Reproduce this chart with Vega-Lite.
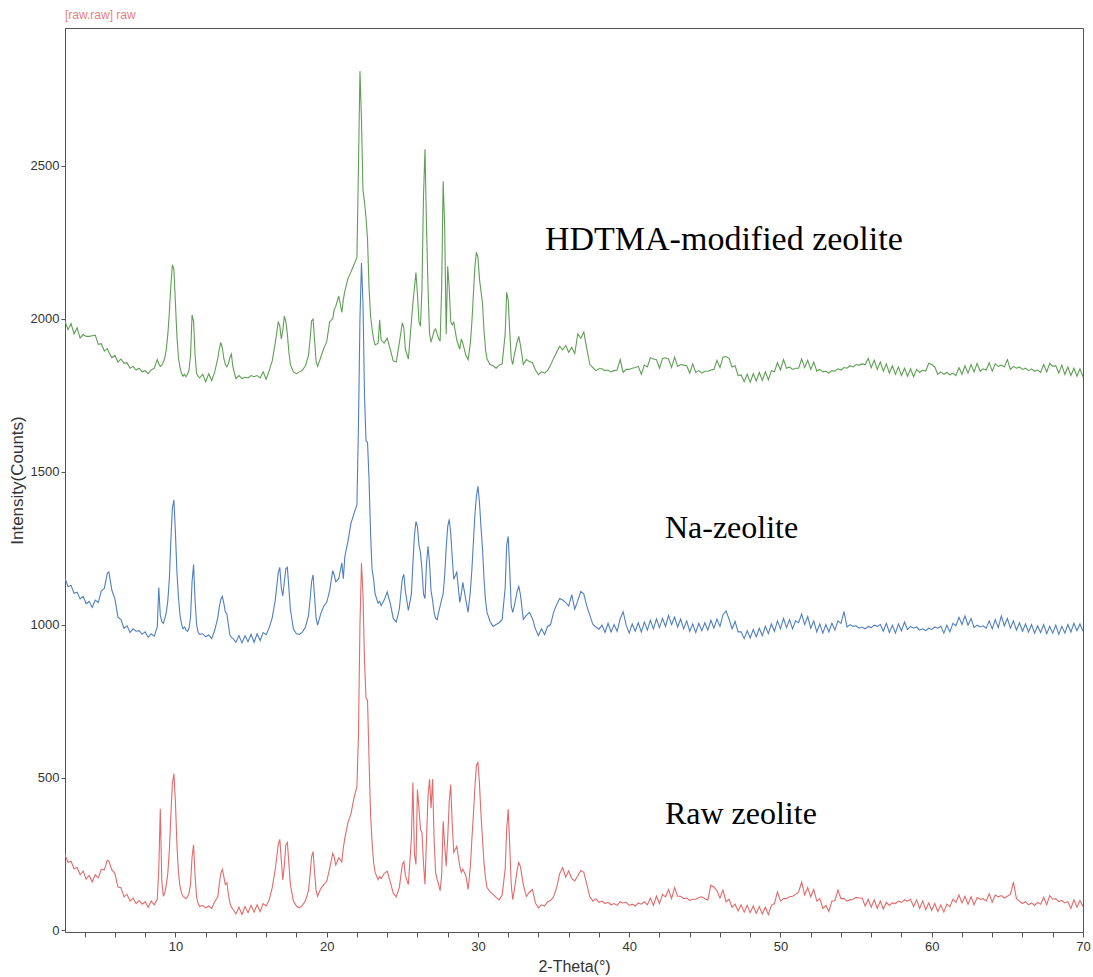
{
  "$schema": "https://vega.github.io/schema/vega-lite/v6.json",
  "width": 1018,
  "height": 904,
  "autosize": {"type": "none"},
  "padding": {"left": 65, "top": 28, "right": 10, "bottom": 45},
  "background": "white",
  "title": {"text": "[raw.raw] raw", "anchor": "start", "frame": "group", "fontSize": 12, "font": "Liberation Sans", "fontWeight": "normal", "color": "#e8807c", "offset": 6},
  "config": {
    "view": {"stroke": "#555555", "strokeWidth": 1},
    "axis": {"grid": false, "domainColor": "#555555", "tickColor": "#555555", "labelColor": "#333333", "titleColor": "#333333", "labelFont": "Liberation Sans", "titleFont": "Liberation Sans", "labelFontSize": 13, "titleFontSize": 16, "titleFontWeight": "normal"}
  },
  "layer": [
    {
      "data": {"values": [
        {"x":2.7,"r":248,"n":1152,"h":1992},{"x":2.9,"r":222,"n":1124,"h":1964},{"x":3.1,"r":226,"n":1128,"h":1984},{"x":3.3,"r":202,"n":1102,"h":1950},
        {"x":3.5,"r":206,"n":1106,"h":1970},{"x":3.7,"r":182,"n":1084,"h":1936},{"x":3.9,"r":194,"n":1092,"h":1948},{"x":4.1,"r":168,"n":1068,"h":1942},
        {"x":4.3,"r":180,"n":1076,"h":1942},{"x":4.5,"r":159,"n":1056,"h":1944},{"x":4.7,"r":182,"n":1080,"h":1946},{"x":4.9,"r":172,"n":1072,"h":1916},
        {"x":5.1,"r":200,"n":1110,"h":1918},{"x":5.3,"r":198,"n":1118,"h":1894},{"x":5.5,"r":230,"n":1168,"h":1902},{"x":5.6,"r":226,"n":1172,"h":1890},
        {"x":5.8,"r":198,"n":1112,"h":1872},{"x":6.0,"r":186,"n":1084,"h":1880},{"x":6.2,"r":142,"n":1024,"h":1858},{"x":6.4,"r":140,"n":1016,"h":1868},
        {"x":6.6,"r":110,"n":988,"h":1854},{"x":6.8,"r":118,"n":996,"h":1856},{"x":7.0,"r":96,"n":974,"h":1838},{"x":7.2,"r":106,"n":986,"h":1844},
        {"x":7.4,"r":88,"n":978,"h":1832},{"x":7.6,"r":98,"n":980,"h":1838},{"x":7.8,"r":86,"n":968,"h":1826},{"x":8.0,"r":94,"n":976,"h":1830},
        {"x":8.2,"r":76,"n":958,"h":1820},{"x":8.4,"r":96,"n":970,"h":1832},{"x":8.6,"r":84,"n":962,"h":1838},{"x":8.8,"r":102,"n":992,"h":1866},
        {"x":8.9,"r":200,"n":1121,"h":1852},{"x":9.0,"r":398,"n":1030,"h":1844},{"x":9.1,"r":160,"n":1010,"h":1848},{"x":9.2,"r":112,"n":1004,"h":1858},
        {"x":9.3,"r":124,"n":1020,"h":1872},{"x":9.4,"r":150,"n":1040,"h":1902},{"x":9.5,"r":190,"n":1080,"h":1950},{"x":9.6,"r":262,"n":1150,"h":2022},
        {"x":9.7,"r":380,"n":1278,"h":2110},{"x":9.8,"r":482,"n":1380,"h":2176},{"x":9.9,"r":512,"n":1408,"h":2160},{"x":10.0,"r":420,"n":1300,"h":2050},
        {"x":10.1,"r":280,"n":1172,"h":1942},{"x":10.2,"r":190,"n":1090,"h":1872},{"x":10.3,"r":146,"n":1032,"h":1840},{"x":10.4,"r":122,"n":1002,"h":1822},
        {"x":10.5,"r":112,"n":986,"h":1812},{"x":10.6,"r":108,"n":992,"h":1818},{"x":10.7,"r":104,"n":982,"h":1810},{"x":10.8,"r":110,"n":978,"h":1818},
        {"x":10.9,"r":122,"n":988,"h":1832},{"x":11.0,"r":152,"n":1024,"h":1880},{"x":11.1,"r":240,"n":1140,"h":2012},{"x":11.2,"r":280,"n":1196,"h":1990},
        {"x":11.3,"r":178,"n":1078,"h":1880},{"x":11.4,"r":110,"n":1000,"h":1820},{"x":11.5,"r":88,"n":975,"h":1812},{"x":11.6,"r":78,"n":968,"h":1806},
        {"x":11.8,"r":82,"n":970,"h":1818},{"x":12.0,"r":74,"n":960,"h":1794},{"x":12.2,"r":80,"n":966,"h":1820},{"x":12.4,"r":72,"n":954,"h":1798},
        {"x":12.6,"r":94,"n":982,"h":1826},{"x":12.8,"r":110,"n":1022,"h":1870},{"x":12.9,"r":152,"n":1058,"h":1900},{"x":13.0,"r":186,"n":1082,"h":1922},
        {"x":13.1,"r":200,"n":1092,"h":1904},{"x":13.2,"r":176,"n":1070,"h":1870},{"x":13.3,"r":150,"n":1040,"h":1850},{"x":13.4,"r":156,"n":1036,"h":1842},
        {"x":13.5,"r":120,"n":1000,"h":1852},{"x":13.6,"r":90,"n":966,"h":1872},{"x":13.7,"r":76,"n":958,"h":1884},{"x":13.8,"r":70,"n":955,"h":1842},
        {"x":14.0,"r":54,"n":942,"h":1804},{"x":14.2,"r":76,"n":964,"h":1814},{"x":14.4,"r":52,"n":940,"h":1804},{"x":14.6,"r":78,"n":963,"h":1808},
        {"x":14.8,"r":58,"n":944,"h":1806},{"x":15.0,"r":82,"n":968,"h":1814},{"x":15.2,"r":60,"n":942,"h":1810},{"x":15.4,"r":84,"n":970,"h":1814},
        {"x":15.6,"r":62,"n":948,"h":1806},{"x":15.8,"r":88,"n":974,"h":1826},{"x":16.0,"r":80,"n":967,"h":1802},{"x":16.2,"r":100,"n":990,"h":1830},
        {"x":16.4,"r":140,"n":1022,"h":1862},{"x":16.6,"r":200,"n":1080,"h":1920},{"x":16.8,"r":282,"n":1170,"h":1990},{"x":16.9,"r":298,"n":1187,"h":1976},
        {"x":17.0,"r":230,"n":1120,"h":1934},{"x":17.1,"r":165,"n":1094,"h":1962},{"x":17.2,"r":212,"n":1140,"h":2008},{"x":17.3,"r":280,"n":1182,"h":1990},
        {"x":17.4,"r":288,"n":1187,"h":1950},{"x":17.5,"r":220,"n":1120,"h":1890},{"x":17.6,"r":150,"n":1050,"h":1850},{"x":17.8,"r":96,"n":985,"h":1826},
        {"x":18.0,"r":80,"n":970,"h":1820},{"x":18.2,"r":74,"n":968,"h":1826},{"x":18.4,"r":82,"n":976,"h":1832},{"x":18.6,"r":98,"n":992,"h":1846},
        {"x":18.8,"r":130,"n":1030,"h":1880},{"x":18.9,"r":182,"n":1082,"h":1932},{"x":19.0,"r":240,"n":1140,"h":1992},{"x":19.1,"r":258,"n":1162,"h":1998},
        {"x":19.2,"r":190,"n":1090,"h":1930},{"x":19.3,"r":130,"n":1020,"h":1860},{"x":19.4,"r":112,"n":998,"h":1844},{"x":19.6,"r":136,"n":1034,"h":1872},
        {"x":19.8,"r":150,"n":1060,"h":1902},{"x":20.0,"r":160,"n":1072,"h":1924},{"x":20.2,"r":204,"n":1112,"h":1990},{"x":20.4,"r":252,"n":1176,"h":2000},
        {"x":20.5,"r":240,"n":1162,"h":2030},{"x":20.6,"r":214,"n":1140,"h":2040},{"x":20.8,"r":238,"n":1150,"h":2074},{"x":21.0,"r":224,"n":1202,"h":2020},
        {"x":21.1,"r":270,"n":1150,"h":2062},{"x":21.2,"r":302,"n":1222,"h":2090},{"x":21.4,"r":352,"n":1270,"h":2130},{"x":21.6,"r":380,"n":1330,"h":2152},
        {"x":21.8,"r":432,"n":1362,"h":2176},{"x":22.0,"r":470,"n":1392,"h":2200},{"x":22.1,"r":640,"n":1650,"h":2500},{"x":22.2,"r":1000,"n":2000,"h":2809},
        {"x":22.3,"r":1200,"n":2182,"h":2650},{"x":22.4,"r":1100,"n":2050,"h":2420},{"x":22.5,"r":880,"n":1750,"h":2380},{"x":22.6,"r":760,"n":1600,"h":2330},
        {"x":22.7,"r":752,"n":1596,"h":2260},{"x":22.8,"r":560,"n":1475,"h":2100},{"x":22.9,"r":380,"n":1300,"h":2010},{"x":23.0,"r":290,"n":1180,"h":1966},
        {"x":23.1,"r":222,"n":1150,"h":1932},{"x":23.2,"r":190,"n":1100,"h":1914},{"x":23.4,"r":166,"n":1070,"h":1920},{"x":23.5,"r":176,"n":1076,"h":1996},
        {"x":23.6,"r":170,"n":1062,"h":1930},{"x":23.8,"r":186,"n":1080,"h":1920},{"x":24.0,"r":194,"n":1106,"h":1936},{"x":24.2,"r":160,"n":1070,"h":1900},
        {"x":24.4,"r":122,"n":1020,"h":1862},{"x":24.6,"r":110,"n":1008,"h":1858},{"x":24.8,"r":140,"n":1050,"h":1920},{"x":25.0,"r":216,"n":1150,"h":1986},
        {"x":25.1,"r":225,"n":1164,"h":1970},{"x":25.2,"r":180,"n":1110,"h":1900},{"x":25.4,"r":150,"n":1046,"h":1868},{"x":25.6,"r":300,"n":1100,"h":1990},
        {"x":25.7,"r":484,"n":1200,"h":2050},{"x":25.8,"r":250,"n":1290,"h":2100},{"x":25.9,"r":216,"n":1337,"h":2151},{"x":26.0,"r":461,"n":1320,"h":2080},
        {"x":26.1,"r":400,"n":1260,"h":1990},{"x":26.2,"r":330,"n":1236,"h":1975},{"x":26.3,"r":320,"n":1180,"h":2100},{"x":26.4,"r":220,"n":1100,"h":2400},
        {"x":26.5,"r":150,"n":1085,"h":2554},{"x":26.6,"r":300,"n":1200,"h":2300},{"x":26.7,"r":440,"n":1256,"h":2100},{"x":26.8,"r":494,"n":1200,"h":1950},
        {"x":26.9,"r":400,"n":1110,"h":1925},{"x":27.0,"r":495,"n":1080,"h":1940},{"x":27.1,"r":300,"n":1040,"h":1960},{"x":27.2,"r":190,"n":1020,"h":1966},
        {"x":27.3,"r":166,"n":1016,"h":1950},{"x":27.4,"r":150,"n":1040,"h":1936},{"x":27.5,"r":130,"n":1060,"h":1926},{"x":27.6,"r":180,"n":1082,"h":2100},
        {"x":27.7,"r":357,"n":1100,"h":2449},{"x":27.8,"r":280,"n":1160,"h":2300},{"x":27.9,"r":210,"n":1250,"h":1950},{"x":28.0,"r":300,"n":1320,"h":2171},
        {"x":28.1,"r":420,"n":1344,"h":2100},{"x":28.2,"r":477,"n":1300,"h":1990},{"x":28.3,"r":350,"n":1220,"h":1980},{"x":28.4,"r":255,"n":1148,"h":1988},
        {"x":28.6,"r":275,"n":1171,"h":1930},{"x":28.8,"r":210,"n":1072,"h":1900},{"x":28.9,"r":190,"n":1100,"h":1934},{"x":29.0,"r":200,"n":1138,"h":1920},
        {"x":29.2,"r":180,"n":1080,"h":1880},{"x":29.35,"r":134,"n":1040,"h":1866},{"x":29.5,"r":210,"n":1110,"h":1920},{"x":29.6,"r":300,"n":1180,"h":1990},
        {"x":29.7,"r":380,"n":1270,"h":2080},{"x":29.8,"r":470,"n":1360,"h":2170},{"x":29.9,"r":540,"n":1420,"h":2217},{"x":30.0,"r":549,"n":1452,"h":2200},
        {"x":30.1,"r":480,"n":1400,"h":2130},{"x":30.2,"r":380,"n":1320,"h":2090},{"x":30.3,"r":300,"n":1250,"h":2050},{"x":30.4,"r":220,"n":1150,"h":1960},
        {"x":30.5,"r":170,"n":1080,"h":1900},{"x":30.6,"r":140,"n":1040,"h":1868},{"x":30.8,"r":126,"n":1010,"h":1850},{"x":31.0,"r":118,"n":994,"h":1846},
        {"x":31.2,"r":108,"n":1000,"h":1838},{"x":31.4,"r":100,"n":1006,"h":1848},{"x":31.6,"r":116,"n":1016,"h":1852},{"x":31.8,"r":200,"n":1120,"h":1950},
        {"x":31.9,"r":330,"n":1260,"h":2086},{"x":32.0,"r":396,"n":1288,"h":2060},{"x":32.1,"r":280,"n":1180,"h":1960},{"x":32.2,"r":150,"n":1060,"h":1870},
        {"x":32.3,"r":101,"n":1040,"h":1850},{"x":32.4,"r":130,"n":1060,"h":1880},{"x":32.6,"r":200,"n":1110,"h":1926},{"x":32.7,"r":222,"n":1125,"h":1942},
        {"x":32.8,"r":210,"n":1100,"h":1916},{"x":33.0,"r":150,"n":1017,"h":1850},{"x":33.2,"r":111,"n":1030,"h":1866},{"x":33.4,"r":125,"n":1040,"h":1860},
        {"x":33.6,"r":134,"n":1020,"h":1856},{"x":33.8,"r":90,"n":985,"h":1832},{"x":34.0,"r":74,"n":964,"h":1817},{"x":34.2,"r":84,"n":986,"h":1826},
        {"x":34.4,"r":80,"n":967,"h":1822},{"x":34.6,"r":94,"n":993,"h":1830},{"x":34.8,"r":98,"n":1000,"h":1848},{"x":35.0,"r":110,"n":1040,"h":1870},
        {"x":35.2,"r":140,"n":1065,"h":1890},{"x":35.4,"r":185,"n":1085,"h":1910},{"x":35.6,"r":205,"n":1080,"h":1898},{"x":35.8,"r":175,"n":1072,"h":1912},
        {"x":36.0,"r":195,"n":1060,"h":1890},{"x":36.2,"r":170,"n":1098,"h":1906},{"x":36.4,"r":162,"n":1050,"h":1886},{"x":36.6,"r":178,"n":1078,"h":1950},
        {"x":36.8,"r":196,"n":1108,"h":1936},{"x":37.0,"r":190,"n":1100,"h":1956},{"x":37.2,"r":150,"n":1060,"h":1900},{"x":37.4,"r":110,"n":1030,"h":1850},
        {"x":37.6,"r":96,"n":1000,"h":1840},{"x":37.8,"r":104,"n":992,"h":1830},{"x":38.0,"r":92,"n":985,"h":1836},
        {"x":38.2,"r":96,"n":998,"h":1836},{"x":38.4,"r":88,"n":974,"h":1830},{"x":38.6,"r":92,"n":1004,"h":1832},{"x":38.8,"r":84,"n":976,"h":1826},
        {"x":39.0,"r":88,"n":1000,"h":1830},{"x":39.2,"r":82,"n":978,"h":1832},{"x":39.4,"r":94,"n":1018,"h":1866},{"x":39.6,"r":90,"n":1042,"h":1824},
        {"x":39.8,"r":92,"n":998,"h":1834},{"x":40.0,"r":82,"n":972,"h":1834},{"x":40.2,"r":86,"n":1002,"h":1838},{"x":40.4,"r":80,"n":978,"h":1840},
        {"x":40.6,"r":90,"n":1006,"h":1844},{"x":40.8,"r":86,"n":976,"h":1818},{"x":41.0,"r":94,"n":1008,"h":1848},{"x":41.2,"r":84,"n":982,"h":1842},
        {"x":41.4,"r":106,"n":1014,"h":1872},{"x":41.6,"r":82,"n":986,"h":1868},{"x":41.8,"r":112,"n":1018,"h":1866},{"x":42.0,"r":88,"n":990,"h":1838},
        {"x":42.2,"r":118,"n":1020,"h":1870},{"x":42.4,"r":110,"n":994,"h":1872},{"x":42.6,"r":134,"n":1030,"h":1868},{"x":42.8,"r":104,"n":1000,"h":1840},
        {"x":43.0,"r":140,"n":1024,"h":1874},{"x":43.2,"r":112,"n":992,"h":1844},{"x":43.4,"r":112,"n":1018,"h":1850},{"x":43.6,"r":104,"n":986,"h":1848},
        {"x":43.8,"r":106,"n":1012,"h":1846},{"x":44.0,"r":98,"n":978,"h":1822},{"x":44.2,"r":102,"n":1002,"h":1852},{"x":44.4,"r":102,"n":974,"h":1824},
        {"x":44.6,"r":108,"n":1004,"h":1830},{"x":44.8,"r":110,"n":980,"h":1822},{"x":45.0,"r":104,"n":1006,"h":1828},{"x":45.2,"r":100,"n":982,"h":1828},
        {"x":45.4,"r":148,"n":1014,"h":1832},{"x":45.6,"r":142,"n":988,"h":1834},{"x":45.8,"r":130,"n":1018,"h":1864},{"x":46.0,"r":106,"n":994,"h":1840},
        {"x":46.2,"r":132,"n":1032,"h":1874},{"x":46.4,"r":94,"n":1044,"h":1876},{"x":46.6,"r":102,"n":1018,"h":1870},{"x":46.8,"r":76,"n":986,"h":1842},
        {"x":47.0,"r":86,"n":1010,"h":1846},{"x":47.2,"r":64,"n":976,"h":1814},{"x":47.4,"r":84,"n":976,"h":1816},{"x":47.6,"r":60,"n":954,"h":1794},
        {"x":47.8,"r":82,"n":980,"h":1818},{"x":48.0,"r":58,"n":956,"h":1792},{"x":48.2,"r":80,"n":984,"h":1820},{"x":48.4,"r":56,"n":960,"h":1796},
        {"x":48.6,"r":78,"n":988,"h":1824},{"x":48.8,"r":54,"n":964,"h":1798},{"x":49.0,"r":76,"n":994,"h":1826},{"x":49.2,"r":52,"n":970,"h":1800},
        {"x":49.4,"r":82,"n":1002,"h":1830},{"x":49.6,"r":88,"n":978,"h":1826},{"x":49.8,"r":126,"n":1012,"h":1856},{"x":50.0,"r":96,"n":986,"h":1832},
        {"x":50.2,"r":104,"n":1020,"h":1866},{"x":50.4,"r":104,"n":990,"h":1838},{"x":50.6,"r":110,"n":1016,"h":1842},{"x":50.8,"r":112,"n":986,"h":1834},
        {"x":51.0,"r":118,"n":1012,"h":1838},{"x":51.2,"r":126,"n":1006,"h":1838},{"x":51.4,"r":158,"n":1034,"h":1868},{"x":51.6,"r":116,"n":1000,"h":1840},
        {"x":51.8,"r":140,"n":1026,"h":1864},{"x":52.0,"r":110,"n":988,"h":1834},{"x":52.2,"r":134,"n":1012,"h":1858},{"x":52.4,"r":96,"n":976,"h":1828},
        {"x":52.6,"r":104,"n":1002,"h":1834},{"x":52.8,"r":72,"n":972,"h":1826},{"x":53.0,"r":82,"n":1000,"h":1828},{"x":53.2,"r":62,"n":976,"h":1822},
        {"x":53.4,"r":96,"n":1004,"h":1830},{"x":53.6,"r":98,"n":982,"h":1828},{"x":53.8,"r":132,"n":1012,"h":1836},{"x":54.0,"r":104,"n":1004,"h":1832},
        {"x":54.2,"r":104,"n":1042,"h":1840},{"x":54.4,"r":96,"n":992,"h":1838},{"x":54.6,"r":100,"n":1000,"h":1846},{"x":54.8,"r":102,"n":994,"h":1842},
        {"x":55.0,"r":108,"n":996,"h":1850},{"x":55.2,"r":106,"n":988,"h":1848},{"x":55.4,"r":106,"n":992,"h":1852},{"x":55.6,"r":80,"n":986,"h":1850},
        {"x":55.8,"r":102,"n":994,"h":1870},{"x":56.0,"r":76,"n":990,"h":1840},{"x":56.2,"r":100,"n":998,"h":1864},{"x":56.4,"r":72,"n":994,"h":1834},
        {"x":56.6,"r":96,"n":1000,"h":1858},{"x":56.8,"r":70,"n":978,"h":1828},{"x":57.0,"r":92,"n":1004,"h":1852},{"x":57.2,"r":82,"n":974,"h":1822},
        {"x":57.4,"r":90,"n":998,"h":1846},{"x":57.6,"r":88,"n":972,"h":1818},{"x":57.8,"r":96,"n":1002,"h":1842},{"x":58.0,"r":92,"n":980,"h":1814},
        {"x":58.2,"r":100,"n":1008,"h":1838},{"x":58.4,"r":96,"n":984,"h":1812},{"x":58.6,"r":102,"n":994,"h":1836},{"x":58.8,"r":78,"n":988,"h":1810},
        {"x":59.0,"r":100,"n":992,"h":1834},{"x":59.2,"r":72,"n":982,"h":1824},{"x":59.4,"r":96,"n":986,"h":1832},{"x":59.6,"r":68,"n":980,"h":1828},
        {"x":59.8,"r":90,"n":988,"h":1854},{"x":60.0,"r":66,"n":984,"h":1850},{"x":60.2,"r":88,"n":992,"h":1842},{"x":60.4,"r":62,"n":988,"h":1818},
        {"x":60.6,"r":84,"n":994,"h":1826},{"x":60.8,"r":60,"n":972,"h":1818},{"x":61.0,"r":86,"n":998,"h":1824},{"x":61.2,"r":78,"n":976,"h":1816},
        {"x":61.4,"r":102,"n":1004,"h":1822},{"x":61.6,"r":92,"n":996,"h":1814},{"x":61.8,"r":116,"n":1024,"h":1840},{"x":62.0,"r":90,"n":1000,"h":1818},
        {"x":62.2,"r":112,"n":1028,"h":1846},{"x":62.4,"r":86,"n":998,"h":1822},{"x":62.6,"r":110,"n":1020,"h":1850},{"x":62.8,"r":84,"n":990,"h":1826},
        {"x":63.0,"r":108,"n":998,"h":1854},{"x":63.2,"r":102,"n":992,"h":1828},{"x":63.4,"r":104,"n":996,"h":1836},{"x":63.6,"r":96,"n":988,"h":1832},
        {"x":63.8,"r":120,"n":1012,"h":1856},{"x":64.0,"r":92,"n":986,"h":1828},{"x":64.2,"r":116,"n":1016,"h":1852},{"x":64.4,"r":110,"n":990,"h":1844},
        {"x":64.6,"r":114,"n":1028,"h":1848},{"x":64.8,"r":106,"n":996,"h":1842},{"x":65.0,"r":112,"n":1020,"h":1866},{"x":65.2,"r":118,"n":988,"h":1834},
        {"x":65.4,"r":158,"n":1012,"h":1844},{"x":65.6,"r":104,"n":982,"h":1838},{"x":65.8,"r":96,"n":1006,"h":1842},{"x":66.0,"r":88,"n":978,"h":1834},
        {"x":66.2,"r":94,"n":1002,"h":1838},{"x":66.4,"r":84,"n":976,"h":1830},{"x":66.6,"r":90,"n":1000,"h":1836},{"x":66.8,"r":82,"n":972,"h":1828},
        {"x":67.0,"r":92,"n":996,"h":1832},{"x":67.2,"r":86,"n":974,"h":1824},{"x":67.4,"r":108,"n":1000,"h":1850},{"x":67.6,"r":84,"n":970,"h":1826},
        {"x":67.8,"r":114,"n":994,"h":1854},{"x":68.0,"r":102,"n":972,"h":1844},{"x":68.2,"r":104,"n":998,"h":1846},{"x":68.4,"r":94,"n":968,"h":1822},
        {"x":68.6,"r":98,"n":994,"h":1848},{"x":68.8,"r":90,"n":972,"h":1818},{"x":69.0,"r":94,"n":1000,"h":1842},{"x":69.2,"r":72,"n":976,"h":1814},
        {"x":69.4,"r":100,"n":1004,"h":1838},{"x":69.6,"r":76,"n":980,"h":1812},{"x":69.8,"r":98,"n":1002,"h":1836},{"x":70.0,"r":78,"n":978,"h":1810}
      ]},
      "transform": [{"fold": ["r", "n", "h"], "as": ["series", "intensity"]}],
      "mark": {"type": "line", "strokeWidth": 1.1, "clip": true},
      "encoding": {
        "x": {
          "field": "x", "type": "quantitative",
          "scale": {"domain": [2.7, 70], "nice": false, "zero": false},
          "axis": {
            "title": "2-Theta(°)",
            "values": [4, 6, 8, 10, 12, 14, 16, 18, 20, 22, 24, 26, 28, 30, 32, 34, 36, 38, 40, 42, 44, 46, 48, 50, 52, 54, 56, 58, 60, 62, 64, 66, 68, 70],
            "tickCount": 40,
            "labelExpr": "datum.value % 10 === 0 ? datum.label : ''",
            "format": "d", "tickSize": 5, "labelPadding": 3, "labelFlush": false, "labelOverlap": false, "titlePadding": 5
          }
        },
        "y": {
          "field": "intensity", "type": "quantitative",
          "scale": {"domain": [-5, 2950], "nice": false, "zero": false},
          "axis": {
            "title": "Intensity(Counts)",
            "titleFontSize": 17,
            "values": [0, 500, 1000, 1500, 2000, 2500],
            "format": "d", "tickSize": 4, "labelPadding": 2, "titlePadding": 4
          }
        },
        "color": {
          "field": "series", "type": "nominal",
          "scale": {"domain": ["r", "n", "h"], "range": ["#e36a6a", "#4f7fbf", "#5f9f55"]},
          "legend": null
        }
      }
    },
    {
      "data": {"values": [{}]},
      "mark": {"type": "text", "text": "HDTMA-modified zeolite", "font": "Liberation Serif", "fontSize": 34, "align": "left", "baseline": "alphabetic", "color": "#000000"},
      "encoding": {"x": {"datum": 34.43, "type": "quantitative"}, "y": {"datum": 2225, "type": "quantitative"}}
    },
    {
      "data": {"values": [{}]},
      "mark": {"type": "text", "text": "Na-zeolite", "font": "Liberation Serif", "fontSize": 32, "align": "left", "baseline": "alphabetic", "color": "#000000"},
      "encoding": {"x": {"datum": 42.36, "type": "quantitative"}, "y": {"datum": 1283, "type": "quantitative"}}
    },
    {
      "data": {"values": [{}]},
      "mark": {"type": "text", "text": "Raw zeolite", "font": "Liberation Serif", "fontSize": 32, "align": "left", "baseline": "alphabetic", "color": "#000000"},
      "encoding": {"x": {"datum": 42.36, "type": "quantitative"}, "y": {"datum": 348, "type": "quantitative"}}
    }
  ]
}
